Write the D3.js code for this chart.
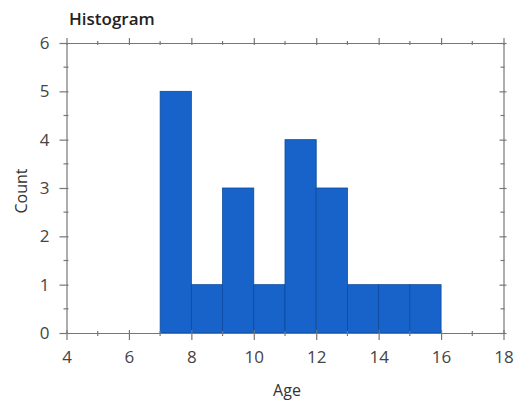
<!DOCTYPE html>
<html><head><meta charset="utf-8">
<script src="https://cdn.jsdelivr.net/npm/d3@7"></script>
<style>body{margin:0;background:#fff}text{font-family:"Open Sans",sans-serif}</style>
</head><body><svg id="c" width="515" height="405"></svg>
<script>
const binStarts = [7, 8, 9, 10, 11, 12, 13, 14, 15];
const binWidth = 1;
const counts = [5, 1, 3, 1, 4, 3, 1, 1, 1];
const xTicks = [4, 6, 8, 10, 12, 14, 16, 18];
const yTicks = [0, 1, 2, 3, 4, 5, 6];

const svg = d3.select("#c");
const m = {l: 66.5, r: 503.5, t: 43, b: 333};
const x = d3.scaleLinear().domain([4, 18]).range([m.l, m.r]);
const y = d3.scaleLinear().domain([0, 6]).range([m.b, m.t]);
const axisCol = "#777";

// bars
svg.append("g").selectAll("rect").data(binStarts).join("rect")
  .attr("x", d => x(d)).attr("width", d => x(d + binWidth) - x(d))
  .attr("y", (d, i) => y(counts[i])).attr("height", (d, i) => y(0) - y(counts[i]))
  .attr("fill", "#1763c9").attr("stroke", "#0c4a9e").attr("stroke-width", 0.8);

const minorX = d3.range(5, 18, 2);
const minorY = d3.range(0.5, 6, 1);

function styleAxis(g) {
  g.selectAll("path,line").attr("stroke", axisCol).attr("stroke-width", 1.2);
  g.selectAll("text").attr("fill", "#444").style("font-size", "17px");
}
// bottom
const gb = svg.append("g").attr("transform", `translate(0,${m.b})`)
  .call(d3.axisBottom(x).tickValues(xTicks).tickFormat(d3.format("d")).tickSize(7).tickPadding(11).tickSizeOuter(0));
gb.selectAll(".tick line").attr("y1", -3);
gb.append("g").selectAll("line").data(minorX).join("line")
  .attr("x1", d => x(d)).attr("x2", d => x(d)).attr("y1", -2).attr("y2", 3);
styleAxis(gb);
// left
const gl = svg.append("g").attr("transform", `translate(${m.l},0)`)
  .call(d3.axisLeft(y).tickValues(yTicks).tickFormat(d3.format("d")).tickSize(7).tickPadding(10).tickSizeOuter(0));
gl.selectAll(".tick line").attr("x1", 2).attr("x2", -7);
gl.append("g").selectAll("line").data(minorY).join("line")
  .attr("y1", d => y(d)).attr("y2", d => y(d)).attr("x1", 2).attr("x2", -3);
styleAxis(gl);
// top
const gt = svg.append("g").attr("transform", `translate(0,${m.t})`)
  .call(d3.axisTop(x).tickValues(xTicks).tickSize(4).tickFormat("").tickSizeOuter(0));
gt.selectAll(".tick line").attr("y1", 2).attr("y2", -5);
gt.append("g").selectAll("line").data(minorX).join("line")
  .attr("x1", d => x(d)).attr("x2", d => x(d)).attr("y1", 2).attr("y2", -2);
styleAxis(gt);
// right
const gr = svg.append("g").attr("transform", `translate(${m.r},0)`)
  .call(d3.axisRight(y).tickValues(yTicks).tickSize(4).tickFormat("").tickSizeOuter(0));
gr.selectAll(".tick line").attr("x1", -4).attr("x2", 3);
gr.append("g").selectAll("line").data(minorY).join("line")
  .attr("y1", d => y(d)).attr("y2", d => y(d)).attr("x1", -3).attr("x2", 1);
styleAxis(gr);

svg.append("text").attr("x", 69).attr("y", 25).text("Histogram")
  .style("font-size", "17px").style("font-weight", 600).attr("fill", "#222");
svg.append("text").attr("x", 287).attr("y", 396).attr("text-anchor", "middle")
  .text("Age").style("font-size", "16px").attr("fill", "#333");
svg.append("text").attr("transform", `translate(27,191) rotate(-90)`)
  .attr("text-anchor", "middle").text("Count").style("font-size", "16px").attr("fill", "#333");
</script></body></html>
